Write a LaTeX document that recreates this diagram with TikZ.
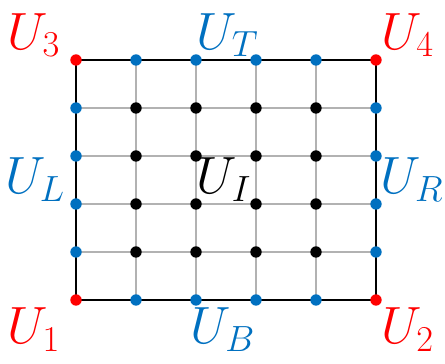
\documentclass[tikz,border=0pt]{standalone}
\usepackage{amsmath,amssymb}
\usepackage{tikz}
\definecolor{ublue}{RGB}{0,112,192}
\definecolor{ured}{RGB}{255,0,0}

\begin{document}
\begin{tikzpicture}[x=1cm, y=0.8cm, every node/.style={font=\fontsize{23}{28}\selectfont}]
\useasboundingbox (-1.267,-1.333) rectangle (6.15,6.25);
\foreach \k in {1,...,4} {
  \draw[black!30, line width=0.5pt] (\k,0) -- (\k,5);
  \draw[black!30, line width=0.5pt] (0,\k) -- (5,\k);
}
\draw[line width=1.2pt] (0,0) rectangle (5,5);
\foreach \i in {1,...,4}
  \foreach \j in {1,...,4}
    \fill (\i,\j) circle (2.7pt);
\foreach \k in {1,...,4} {
  \fill[ublue] (\k,0) circle (2.7pt);
  \fill[ublue] (\k,5) circle (2.7pt);
  \fill[ublue] (0,\k) circle (2.7pt);
  \fill[ublue] (5,\k) circle (2.7pt);
}
\foreach \p in {(0,0),(5,0),(0,5),(5,5)}
  \fill[ured] \p circle (2.7pt);
\node[text=ured] (u3) at (-0.7,5.52) {$U_3$};
\node[text=ublue] (ut) at (2.53,5.52) {$U_T$};
\node[text=ured] (u4) at (5.53,5.52) {$U_4$};
\node[text=ublue] (ul) at (-0.68,2.5) {$U_L$};
\node (ui) at (2.47,2.5) {$U_I$};
\node[text=ublue] (ur) at (5.6,2.5) {$U_R$};
\node[text=ured] (u1) at (-0.7,-0.625) {$U_1$};
\node[text=ublue] (ub) at (2.45,-0.625) {$U_B$};
\node[text=ured] (u2) at (5.53,-0.625) {$U_2$};
\end{tikzpicture}
\end{document}
